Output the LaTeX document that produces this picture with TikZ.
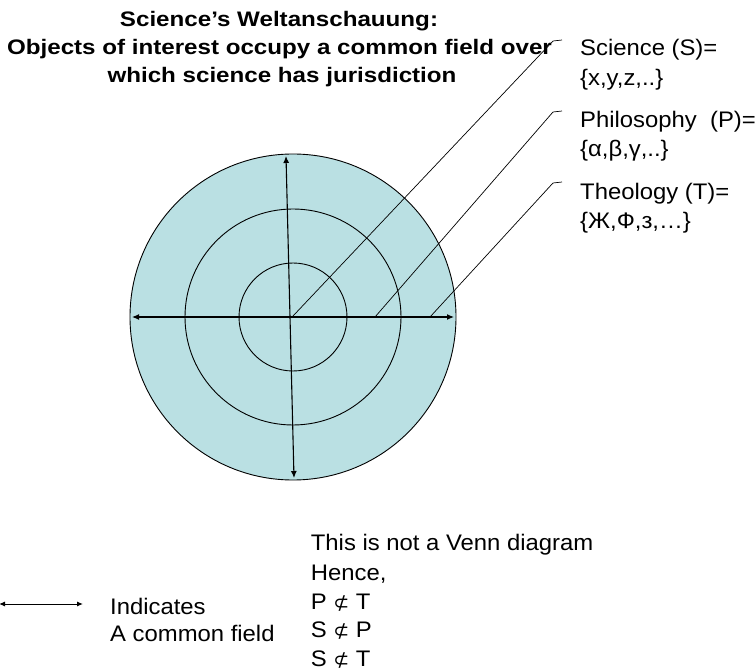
\documentclass[tikz,border=0pt]{standalone}
\usepackage{fontspec}
\setmainfont{Liberation Sans}
\newfontfamily\titlefont{Liberation Sans}[FakeStretch=1.15]
\newfontfamily\lblfont{Liberation Sans}[FakeStretch=1.06]
\newfontfamily\symfont{DejaVu Sans}
\usetikzlibrary{arrows.meta}
\definecolor{ringblue}{RGB}{186,224,227}
\newcommand{\nsubsym}{{\symfont\fontsize{19}{29}\selectfont ⊄}}
\begin{document}
\begin{tikzpicture}[x=1pt,y=-1pt,
  ring/.style={circle,draw=black,line width=0.9pt,inner sep=0pt},
  axisarrow/.style={line width=1.1pt,{Latex[length=7pt,width=6pt]}-{Latex[length=7pt,width=6pt]}},
  legendarrow/.style={line width=1pt,{Latex[length=6pt,width=5pt]}-{Latex[length=6pt,width=5pt]}},
  leader/.style={line width=0.7pt},
  titletext/.style={anchor=base,inner sep=0pt,font=\titlefont\bfseries\fontsize{21}{28}\selectfont},
  lbl/.style={anchor=base west,inner sep=0pt,font=\lblfont\fontsize{22.5}{29}\selectfont}
]
\useasboundingbox (0,0) rectangle (756,671);

% title
\node[titletext] (t1) at (279,26.7) {Science’s Weltanschauung:};
\node[titletext] (t2) at (279.5,55) {Objects of interest occupy a common field over};
\node[titletext] (t3) at (282,82.7) {which science has jurisdiction};

% circles
\coordinate (c) at (293,317);
\node[ring,fill=ringblue,minimum size=326pt] (outer) at (c) {};
\node[ring,minimum size=216pt] (middle) at (c) {};
\node[ring,minimum size=108pt] (inner) at (c) {};

% axes
\coordinate (hl) at (132,317);
\coordinate (hr) at (454,317);
\coordinate (vt) at (286,156);
\coordinate (vb) at (294,478);
\draw[axisarrow] (hl) -- (hr);
\draw[axisarrow] (vt) -- (vb);

% labels on the right
\node[lbl] (sci1) at (580,56) {Science (S)=};
\node[lbl] (sci2) at (580,85.5) {\{x,y,z,..\}};
\node[lbl] (phi1) at (580,127.7) {Philosophy\ \ (P)=};
\node[lbl] (phi2) at (580,156.7) {\{α,β,γ,..\}};
\node[lbl] (the1) at (580,200) {Theology (T)=};
\node[lbl] (the2) at (580,228.3) {\{Ж,Ф,з,…\}};

% leaders
\coordinate (sS) at (293,316);
\coordinate (sP) at (375,317);
\coordinate (sT) at (430,317);
\coordinate (kS) at (553,41);
\coordinate (kP) at (553,112);
\coordinate (kT) at (553,183);
\coordinate (eS) at (562,40);
\coordinate (eP) at (562,111);
\coordinate (eT) at (562,182);
\draw[leader] (sS) -- (kS) -- (eS);
\draw[leader] (sP) -- (kP) -- (eP);
\draw[leader] (sT) -- (kT) -- (eT);

% legend
\coordinate (la) at (-1,604);
\coordinate (lb) at (83,604);
\draw[legendarrow] (la) -- (lb);
\node[lbl] (ind1) at (110,614) {Indicates};
\node[lbl] (ind2) at (110,641.7) {A common field};

% bottom statement
\node[lbl] (b1) at (310.7,550) {This is not a Venn diagram};
\node[lbl] (b2) at (310.7,580) {Hence,};
\node[lbl] (b3) at (310.7,609) {P \nsubsym{} T};
\node[lbl] (b4) at (310.7,637.5) {S \nsubsym{} P};
\node[lbl] (b5) at (310.7,666) {S \nsubsym{} T};
\end{tikzpicture}
\end{document}
